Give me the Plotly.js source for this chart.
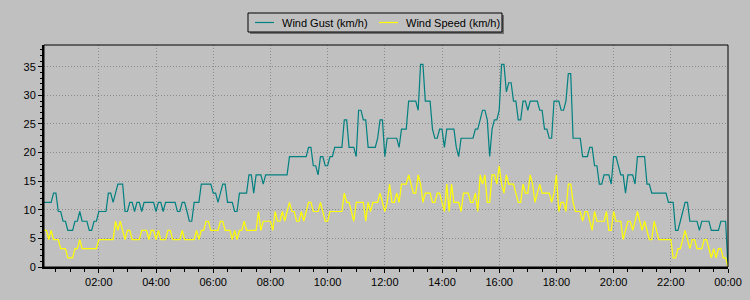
<!DOCTYPE html>
<html>
<head>
<meta charset="utf-8">
<script src="https://cdn.plot.ly/plotly-3.0.1.min.js"></script>
<style>
html,body{margin:0;padding:0;background:#c0c0c0;}
#chart{width:750px;height:300px;}
</style>
</head>
<body>
<div id="chart"></div>
<script>
// 5-minute samples from 00:05 to 24:00 (one row = one hour)
const gustKmh = [
  11.3,11.3,11.3,11.3,12.9,12.9,9.7,9.7,8.0,8.0,6.4,6.4,
  6.4,8.0,8.0,9.7,8.0,8.0,8.0,6.4,6.4,8.0,8.0,9.7,
  9.7,9.7,9.7,12.9,12.9,11.3,12.9,14.5,14.5,14.5,9.7,9.7,
  11.3,11.3,9.7,11.3,11.3,9.7,11.3,11.3,11.3,11.3,11.3,9.7,
  11.3,11.3,9.7,11.3,11.3,11.3,11.3,11.3,9.7,9.7,11.3,11.3,
  9.7,8.0,8.0,11.3,11.3,11.3,14.5,14.5,14.5,14.5,14.5,12.9,
  12.9,11.3,12.9,14.5,14.5,11.3,11.3,11.3,9.7,9.7,12.9,12.9,
  12.9,12.9,16.1,16.1,12.9,16.1,16.1,16.1,14.5,16.1,16.1,16.1,
  16.1,16.1,16.1,16.1,16.1,16.1,16.1,19.3,19.3,19.3,19.3,19.3,
  19.3,19.3,19.3,20.9,20.9,17.7,17.7,16.1,19.3,19.3,17.7,17.7,
  19.3,19.3,20.9,20.9,20.9,20.9,25.7,25.7,20.9,20.9,20.9,19.3,
  27.4,27.4,25.7,25.7,20.9,20.9,20.9,20.9,22.5,25.7,25.7,19.3,
  22.5,22.5,22.5,22.5,22.5,20.9,24.1,24.1,24.1,29.0,29.0,29.0,
  29.0,27.4,35.4,35.4,29.0,29.0,29.0,24.1,22.5,22.5,24.1,24.1,
  20.9,24.1,24.1,24.1,24.1,20.9,19.3,22.5,22.5,22.5,22.5,22.5,
  22.5,24.1,24.1,25.7,27.4,27.4,25.7,19.3,24.1,25.7,25.7,27.4,
  35.4,35.4,30.6,32.2,32.2,29.0,29.0,25.7,25.7,29.0,29.0,27.4,
  29.0,29.0,29.0,29.0,27.4,27.4,24.1,24.1,22.5,22.5,29.0,29.0,
  29.0,27.4,27.4,29.0,33.8,33.8,22.5,22.5,22.5,22.5,19.3,19.3,
  19.3,20.9,20.9,17.7,17.7,14.5,14.5,16.1,16.1,16.1,14.5,19.3,
  19.3,17.7,16.1,16.1,12.9,16.1,16.1,16.1,14.5,19.3,19.3,19.3,
  19.3,14.5,14.5,12.9,12.9,12.9,12.9,12.9,12.9,12.9,11.3,11.3,
  11.3,6.4,6.4,8.0,9.7,11.3,11.3,8.0,8.0,8.0,8.0,6.4,
  8.0,8.0,8.0,8.0,6.4,6.4,6.4,6.4,8.0,8.0,8.0,0
];
const speedKmh = [
  6.4,6.4,4.8,6.4,4.8,4.8,4.8,3.2,3.2,3.2,1.6,1.6,
  1.6,3.2,3.2,4.8,3.2,3.2,3.2,3.2,3.2,3.2,3.2,4.8,
  4.8,4.8,4.8,4.8,4.8,4.8,8.0,6.4,8.0,6.4,4.8,6.4,
  6.4,4.8,4.8,4.8,4.8,6.4,6.4,6.4,4.8,6.4,6.4,4.8,
  6.4,4.8,4.8,4.8,6.4,6.4,4.8,4.8,4.8,4.8,6.4,4.8,
  4.8,4.8,4.8,4.8,6.4,4.8,6.4,6.4,8.0,8.0,6.4,6.4,
  6.4,6.4,8.0,8.0,6.4,6.4,6.4,4.8,6.4,4.8,6.4,6.4,
  8.0,6.4,6.4,6.4,6.4,6.4,9.7,6.4,8.0,8.0,8.0,8.0,
  6.4,9.7,8.0,8.0,9.7,8.0,9.7,11.3,9.7,9.7,8.0,8.0,
  9.7,8.0,9.7,11.3,11.3,9.7,9.7,9.7,11.3,9.7,8.0,8.0,
  9.7,9.7,9.7,9.7,9.7,9.7,12.9,11.3,11.3,9.7,8.0,11.3,
  11.3,11.3,11.3,8.0,11.3,9.7,11.3,11.3,11.3,12.9,11.3,9.7,
  11.3,14.5,11.3,11.3,12.9,11.3,14.5,14.5,14.5,16.1,14.5,12.9,
  12.9,16.1,14.5,11.3,12.9,12.9,12.9,11.3,11.3,12.9,12.9,11.3,
  9.7,14.5,9.7,14.5,11.3,11.3,11.3,9.7,12.9,12.9,12.9,11.3,
  11.3,12.9,9.7,16.1,14.5,16.1,11.3,11.3,16.1,16.1,14.5,17.7,
  14.5,12.9,16.1,14.5,14.5,14.5,12.9,11.3,11.3,14.5,12.9,12.9,
  16.1,14.5,11.3,12.9,14.5,12.9,12.9,12.9,12.9,11.3,12.9,16.1,
  9.7,11.3,11.3,9.7,14.5,14.5,11.3,9.7,9.7,9.7,8.0,9.7,
  9.7,8.0,6.4,9.7,8.0,8.0,8.0,8.0,9.7,6.4,6.4,9.7,
  8.0,8.0,8.0,4.8,6.4,8.0,8.0,6.4,8.0,9.7,8.0,6.4,
  8.0,6.4,4.8,4.8,8.0,6.4,4.8,4.8,4.8,4.8,4.8,4.8,
  1.6,1.6,3.2,3.2,4.8,6.4,4.8,3.2,4.8,4.8,3.2,3.2,
  3.2,4.8,4.8,3.2,1.6,3.2,1.6,3.2,3.2,1.6,1.6,0
];
const xTickVals = [2,4,6,8,10,12,14,16,18,20,22,24];
const xTickText = ['02:00','04:00','06:00','08:00','10:00','12:00','14:00','16:00','18:00','20:00','22:00','00:00'];
const yTickVals = [0,5,10,15,20,25,30,35];
const seriesNames = ['Wind Gust (km/h)','Wind Speed (km/h)'];
const seriesColors = ['#008080','#ffff00'];

// sample times in hours (every 5 minutes, first at 00:05)
const hours = gustKmh.map((_, i) => (i + 1) * 5 / 60);

const M = {l:44, r:22, t:45, b:33};
const PW = 750 - M.l - M.r, PH = 300 - M.t - M.b;
const px = x => (x - M.l) / PW;
const py = y => (300 - M.b - y) / PH;

const traces = [
  {x: hours, y: gustKmh, type:'scatter', mode:'lines', name: seriesNames[0],
   line:{color: seriesColors[0], width:1.2}, showlegend:false, hoverinfo:'skip'},
  {x: hours, y: speedKmh, type:'scatter', mode:'lines', name: seriesNames[1],
   line:{color: seriesColors[1], width:1.2}, showlegend:false, hoverinfo:'skip'}
];

const font = {family:'"Liberation Sans", Arial, sans-serif', size:11, color:'#000'};

// custom legend box (pixel geometry -> paper coords)
const lgL = 248, lgR = 502, lgT = 13, lgB = 32, lgMid = 22.5;
const shapes = [
  {type:'rect', xref:'paper', yref:'paper', x0:px(lgL+2), x1:px(lgR+2), y0:py(lgB+2), y1:py(lgT+2),
   fillcolor:'#707070', line:{width:0}},
  {type:'rect', xref:'paper', yref:'paper', x0:px(lgL), x1:px(lgR), y0:py(lgB), y1:py(lgT),
   fillcolor:'#c0c0c0', line:{color:'#000', width:1}},
  {type:'line', xref:'paper', yref:'paper', x0:px(255), x1:px(274), y0:py(lgMid), y1:py(lgMid),
   line:{color:seriesColors[0], width:1.2}},
  {type:'line', xref:'paper', yref:'paper', x0:px(379), x1:px(398), y0:py(lgMid), y1:py(lgMid),
   line:{color:seriesColors[1], width:1.2}},
  {type:'rect', xref:'paper', yref:'paper', x0:0, x1:1, y0:0, y1:1, line:{color:'#000', width:1}}
];
const annotations = [
  {xref:'paper', yref:'paper', x:px(280), y:py(lgMid), xanchor:'left', yanchor:'middle',
   text: seriesNames[0], showarrow:false, font:font},
  {xref:'paper', yref:'paper', x:px(404), y:py(lgMid), xanchor:'left', yanchor:'middle',
   text: seriesNames[1], showarrow:false, font:font}
];

const gridStyle = {showgrid:true, gridcolor:'#8c8c8c', griddash:'1px,2px', gridwidth:1};

const layout = {
  width:750, height:300,
  margin:M,
  paper_bgcolor:'#c0c0c0', plot_bgcolor:'#c0c0c0',
  showlegend:false,
  font:font,
  xaxis:Object.assign({
    range:[hours[0], 24], tickmode:'array', tickvals:xTickVals, ticktext:xTickText,
    showline:true, linecolor:'#000', linewidth:2,
    ticks:'outside', ticklen:4, tickcolor:'#000', tickwidth:1,
    zeroline:false, tickfont:font,
    minor:{dtick:0.5, tick0:0, ticks:'outside', ticklen:3, tickcolor:'#000', showgrid:false}
  }, gridStyle),
  yaxis:Object.assign({
    range:[0, 38.8], tickmode:'array', tickvals:yTickVals,
    showline:true, linecolor:'#000', linewidth:2,
    ticks:'outside', ticklen:4, tickcolor:'#000', tickwidth:1,
    zeroline:false, tickfont:font,
    minor:{dtick:1, tick0:0, ticks:'outside', ticklen:2, tickcolor:'#000', showgrid:false}
  }, gridStyle),
  shapes:shapes,
  annotations:annotations
};

Plotly.newPlot('chart', traces, layout, {staticPlot:true, displayModeBar:false});
</script>
</body>
</html>
